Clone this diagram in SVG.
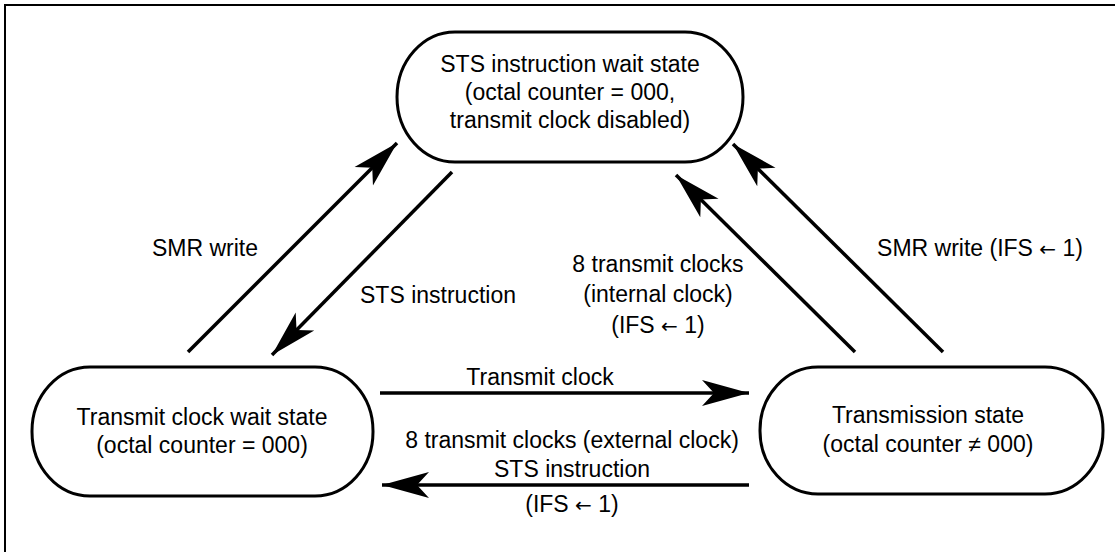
<svg xmlns="http://www.w3.org/2000/svg" width="1115" height="552" viewBox="0 0 1115 552">
<defs>
<marker id="ah" markerUnits="userSpaceOnUse" markerWidth="60" markerHeight="40" viewBox="-50 -20 60 40" refX="0" refY="0" orient="auto">
<path d="M0,0 L-47,-13 L-35,0 L-47,13 Z" fill="#000"/>
</marker>
</defs>
<style>
.node{fill:#fff;stroke:#000;stroke-width:3}
.t{font-family:"Liberation Sans",Arial,sans-serif;font-size:23px;fill:#000;text-anchor:middle}
.ar{font-family:"DejaVu Sans",sans-serif;font-size:20px}
.c{stroke:#000;stroke-width:3.5;fill:none;marker-end:url(#ah)}
</style>
<rect width="1115" height="552" fill="#fff"/>
<path d="M5,552 L5,5 L1115,5" fill="none" stroke="#000" stroke-width="2"/>
<g id="node-sts-wait">
<rect class="node" x="397" y="32" width="346" height="130" rx="58" ry="65"/>
<text class="t" x="570" y="72">STS instruction wait state</text>
<text class="t" x="570" y="100">(octal counter = 000,</text>
<text class="t" x="570" y="128">transmit clock disabled)</text>
</g>
<g id="node-clock-wait">
<rect class="node" x="32" y="367" width="341" height="129" rx="58" ry="64"/>
<text class="t" x="202" y="425">Transmit clock wait state</text>
<text class="t" x="202" y="453">(octal counter = 000)</text>
</g>
<g id="node-transmission">
<rect class="node" x="760" y="367" width="343" height="127" rx="58" ry="63"/>
<text class="t" x="928" y="423">Transmission state</text>
<text class="t" x="928" y="452">(octal counter ≠ 000)</text>
</g>
<g id="connectors">
<line class="c" x1="188" y1="352" x2="397" y2="143"/>
<line class="c" x1="452" y1="172" x2="272" y2="355"/>
<line class="c" x1="855" y1="352" x2="676" y2="175"/>
<line class="c" x1="943" y1="352" x2="733" y2="144"/>
<line class="c" x1="380" y1="393" x2="749" y2="393"/>
<line class="c" x1="749" y1="485" x2="382" y2="485"/>
<text class="t" x="205" y="256">SMR write</text>
<text class="t" x="438" y="303">STS instruction</text>
<text class="t" x="658" y="272">8 transmit clocks</text>
<text class="t" x="658" y="302">(internal clock)</text>
<text class="t" x="658" y="333">(IFS <tspan class="ar">←</tspan> 1)</text>
<text class="t" x="980" y="256">SMR write (IFS <tspan class="ar">←</tspan> 1)</text>
<text class="t" x="540" y="385">Transmit clock</text>
<text class="t" x="572" y="448">8 transmit clocks (external clock)</text>
<text class="t" x="572" y="477">STS instruction</text>
<text class="t" x="572" y="512">(IFS <tspan class="ar">←</tspan> 1)</text>
</g>
</svg>
